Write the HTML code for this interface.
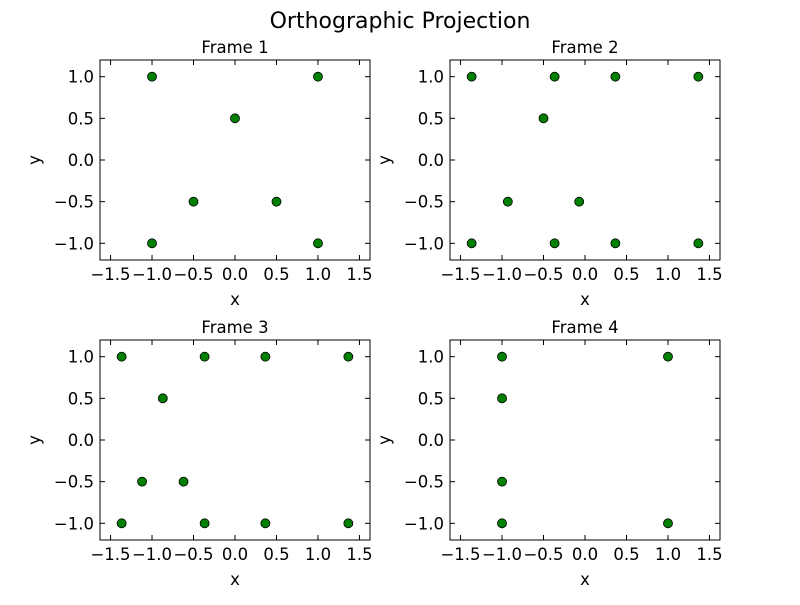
<!DOCTYPE html>
<html><head><meta charset="utf-8"><style>body{margin:0;background:#fff}svg{font-family:"DejaVu Sans","Liberation Sans",sans-serif}</style></head>
<body>
<svg id="c" width="800" height="600">
<text x="400" y="28" font-size="22" text-anchor="middle">Orthographic Projection</text>
</svg>
<script>
const frameTitles = ["Frame 1","Frame 2","Frame 3","Frame 4"];
const frame1X = [-1,1,0,-0.5,0.5,-1,1];
const frame1Y = [1,1,0.5,-0.5,-0.5,-1,-1];
const frame2X = [-1.366,-0.366,0.366,1.366,-0.5,-0.93,-0.07,-1.366,-0.366,0.366,1.366];
const frame2Y = [1,1,1,1,0.5,-0.5,-0.5,-1,-1,-1,-1];
const frame3X = [-1.366,-0.366,0.366,1.366,-0.87,-1.12,-0.62,-1.366,-0.366,0.366,1.366];
const frame3Y = [1,1,1,1,0.5,-0.5,-0.5,-1,-1,-1,-1];
const frame4X = [-1,1,-1,-1,-1,1];
const frame4Y = [1,1,0.5,-0.5,-1,-1];
const xTicks = [-1.5,-1.0,-0.5,0.0,0.5,1.0,1.5];
const yTicks = [-1.0,-0.5,0.0,0.5,1.0];
const xLabels = ["\u22121.5","\u22121.0","\u22120.5","0.0","0.5","1.0","1.5"];
const yLabels = ["\u22121.0","\u22120.5","0.0","0.5","1.0"];
const xs=[frame1X,frame2X,frame3X,frame4X], ys=[frame1Y,frame2Y,frame3Y,frame4Y];
const NS="http://www.w3.org/2000/svg", svg=document.getElementById('c');
function mk(t,a,p){const e=document.createElementNS(NS,t);for(const k in a)e.setAttribute(k,a[k]);(p||svg).appendChild(e);return e;}
const boxes=[[100,60],[450,60],[100,340],[450,340]], W=270, H=200, xmin=-1.627, xmax=1.627, ymin=-1.2, ymax=1.2;
for(let f=0;f<4;f++){
  const [L,T]=boxes[f];
  const g=mk('g',{});
  
  
  const sx=v=>L+(v-xmin)/(xmax-xmin)*W, sy=v=>T+(ymax-v)/(ymax-ymin)*H;
  const tt=mk('text',{x:L+W/2,y:T-7,'font-size':16.5,'text-anchor':'middle'},g);tt.textContent=frameTitles[f];
  
  
  xTicks.forEach((v,i)=>{const x=sx(v);
    mk('line',{x1:x,x2:x,y1:T+H,y2:T+H-5,stroke:'#000'},g);mk('line',{x1:x,x2:x,y1:T,y2:T+5,stroke:'#000'},g);
    const t=mk('text',{x:x,y:T+H+20,'font-size':16.5,'text-anchor':'middle'},g);t.textContent=xLabels[i];
    
    });
  yTicks.forEach((v,i)=>{const y=sy(v);
    mk('line',{x1:L,x2:L+5,y1:y,y2:y,stroke:'#000'},g);mk('line',{x1:L+W,x2:L+W-5,y1:y,y2:y,stroke:'#000'},g);
    const t=mk('text',{x:L-6,y:y+6,'font-size':16.5,'text-anchor':'end'},g);t.textContent=yLabels[i];
    
    });
  const xl=mk('text',{x:L+W/2,y:T+H+45,'font-size':16.5,'text-anchor':'middle'},g);xl.textContent='x';
  
  
  const yl=mk('text',{x:0,y:0,'font-size':16.5,'text-anchor':'middle',transform:`translate(${L-60},${T+H/2}) rotate(-90)`},g);yl.textContent='y';
  
  
  xs[f].forEach((v,i)=>{const c=mk('circle',{cx:sx(v),cy:sy(ys[f][i]),r:4.5,fill:'#008000',stroke:'#000','stroke-width':0.8},g);
    
    });
  mk('rect',{x:L,y:T,width:W,height:H,fill:'none',stroke:'#000','stroke-width':1},g);
}
</script>
</body></html>
